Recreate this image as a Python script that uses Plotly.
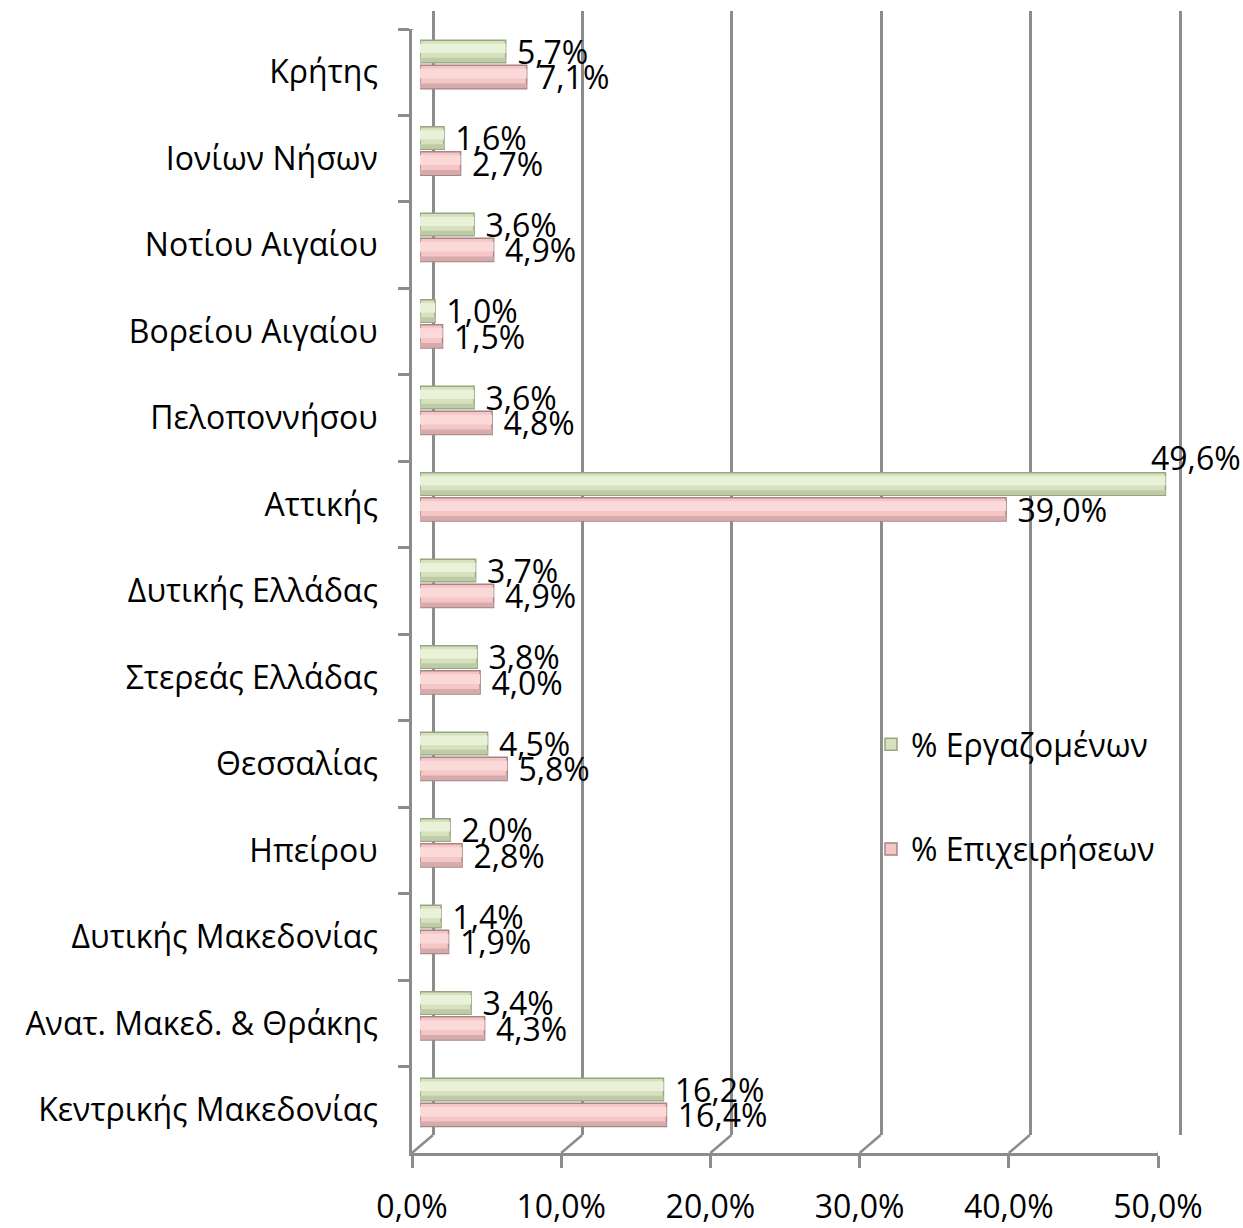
import plotly.graph_objects as go

regions = ["Κρήτης", "Ιονίων Νήσων", "Νοτίου Αιγαίου", "Βορείου Αιγαίου", "Πελοποννήσου",
           "Αττικής", "Δυτικής Ελλάδας", "Στερεάς Ελλάδας", "Θεσσαλίας", "Ηπείρου",
           "Δυτικής Μακεδονίας", "Ανατ. Μακεδ. & Θράκης", "Κεντρικής Μακεδονίας"]
employees = [5.7, 1.6, 3.6, 1.0, 3.6, 49.6, 3.7, 3.8, 4.5, 2.0, 1.4, 3.4, 16.2]
firms = [7.1, 2.7, 4.9, 1.5, 4.8, 39.0, 4.9, 4.0, 5.8, 2.8, 1.9, 4.3, 16.4]
x_ticks = [0, 10, 20, 30, 40, 50]
x_tick_labels = ["0,0%", "10,0%", "20,0%", "30,0%", "40,0%", "50,0%"]

W, H = 1243, 1228
FONT = "Open Sans"
GRID = "#8c8c8c"
FS = 32


def fx(p):
    return p / W


def fy(p):
    return 1 - p / H


def fmt(v):
    return f"\u00a0{v:.1f}%".replace(".", ",")


# the largest label is placed above its bar (as in the original) instead of outside
big = employees.index(max(employees))
emp_text = [fmt(v) if i != big else "" for i, v in enumerate(employees)]
firm_text = [fmt(v) for v in firms]

fig = go.Figure()

# back wall subplot (gridlines)
fig.add_trace(go.Scatter(x=[0, 50], y=[0, 1], mode="markers", marker=dict(opacity=0),
                         xaxis="x", yaxis="y", showlegend=False, hoverinfo="skip"))
# front axes subplot (axis lines, ticks, labels)
fig.add_trace(go.Scatter(x=[0] * len(regions), y=regions, mode="markers", marker=dict(opacity=0),
                         xaxis="x2", yaxis="y2", showlegend=False, hoverinfo="skip"))

# bars: base + shading bands to suggest the cylinder look
series = [
    dict(name="% Εργαζομένων", vals=employees, text=emp_text, off=-0.27, wid=0.26,
         base="#d6e2be", line="#98a582", hi="#e9f2d8", lo="#bfcaa7", group="a"),
    dict(name="% Επιχειρήσεων", vals=firms, text=firm_text, off=0.02, wid=0.27,
         base="#f4c6c6", line="#a88484", hi="#fcd9d9", lo="#d6abab", group="b"),
]
for s in series:
    fig.add_trace(go.Bar(name=s["name"], y=regions, x=s["vals"], orientation="h",
                         xaxis="x3", yaxis="y3", legendgroup=s["group"],
                         offset=s["off"], width=s["wid"],
                         marker=dict(color=s["base"], line=dict(color=s["line"], width=1.5)),
                         text=s["text"], textposition="outside", constraintext="none",
                         cliponaxis=False, textfont=dict(size=FS, color="black", family=FONT)))
    fig.add_trace(go.Bar(y=regions, x=s["vals"], orientation="h", xaxis="x3", yaxis="y3",
                         offset=s["off"] + 0.04, width=s["wid"] * 0.42, showlegend=False,
                         hoverinfo="skip", legendgroup=s["group"],
                         marker=dict(color=s["hi"], line=dict(width=0))))
    fig.add_trace(go.Bar(y=regions, x=s["vals"], orientation="h", xaxis="x3", yaxis="y3",
                         offset=s["off"] + s["wid"] * 0.78, width=s["wid"] * 0.2, showlegend=False,
                         hoverinfo="skip", legendgroup=s["group"],
                         marker=dict(color=s["lo"], line=dict(width=0))))

annotations = [dict(x=employees[big], y=regions[big], xref="x3", yref="y3",
                    text=fmt(employees[big]).strip("\u00a0"), showarrow=False,
                    xanchor="left", yanchor="middle", xshift=-16, yshift=39,
                    font=dict(size=FS, color="black", family=FONT))]

shapes = []
for v in x_ticks:
    shapes.append(dict(type="line", xref="x2", yref="y2", xsizemode="pixel", ysizemode="pixel",
                       xanchor=v, yanchor=12.5, x0=0, x1=21, y0=0, y1=18,
                       line=dict(color=GRID, width=2.5), layer="below"))
shapes.append(dict(type="line", xref="x2", yref="y2", xsizemode="pixel", ysizemode="pixel",
                   xanchor=0, yanchor=-0.5, x0=0, x1=21, y0=0, y1=18,
                   line=dict(color=GRID, width=2.5), layer="below"))

wall_px = (1180 - 433) / 50.0

fig.update_layout(
    width=W, height=H,
    margin=dict(l=0, r=0, t=0, b=0, autoexpand=False),
    paper_bgcolor="white", plot_bgcolor="rgba(0,0,0,0)",
    separators=",.",
    font=dict(family=FONT, size=FS, color="black"),
    barmode="overlay",
    showlegend=True,
    legend=dict(x=fx(871), y=fy(717), xanchor="left", yanchor="top",
                font=dict(size=FS, family=FONT), traceorder="grouped", tracegroupgap=60,
                bgcolor="rgba(0,0,0,0)"),
    shapes=shapes,
    annotations=annotations,
    xaxis=dict(domain=[fx(433 - wall_px), fx(1180 + wall_px)], range=[-1, 51], anchor="y",
               showgrid=True, gridcolor=GRID, gridwidth=2.5, tickvals=x_ticks,
               showticklabels=False, zeroline=False, showline=False, ticks=""),
    yaxis=dict(domain=[fy(1135), fy(11)], range=[0, 1], anchor="x",
               showgrid=False, zeroline=False, showticklabels=False, showline=False, ticks=""),
    xaxis2=dict(domain=[fx(412), fx(1158)], range=[0, 50], anchor="y2",
                tickvals=x_ticks, ticktext=x_tick_labels, ticks="outside", ticklen=12,
                tickwidth=2.5, tickcolor=GRID,
                showline=True, linecolor=GRID, linewidth=2.5, showgrid=False, zeroline=False,
                tickfont=dict(size=FS, family=FONT), ticklabelstandoff=12),
    yaxis2=dict(domain=[fy(1153), fy(29)], type="category", categoryarray=regions,
                categoryorder="array", range=[12.5, -0.5], anchor="x2",
                ticks="outside", tickson="boundaries", ticklen=11, tickwidth=2.5, tickcolor=GRID,
                showline=True, linecolor=GRID, linewidth=2.5, showgrid=False, zeroline=False,
                tickfont=dict(size=FS, family=FONT), ticklabelstandoff=25),
    xaxis3=dict(domain=[fx(420), fx(1186.5)], range=[0, 51], anchor="y3", visible=False),
    yaxis3=dict(domain=[fy(1144.75), fy(20.3)], type="category", categoryarray=regions,
                categoryorder="array", range=[12.5, -0.5], anchor="x3", visible=False),
)

fig.write_html("out.html", config={"displayModeBar": False},
               post_script="document.body.style.margin='0';document.body.style.overflow='hidden';")
